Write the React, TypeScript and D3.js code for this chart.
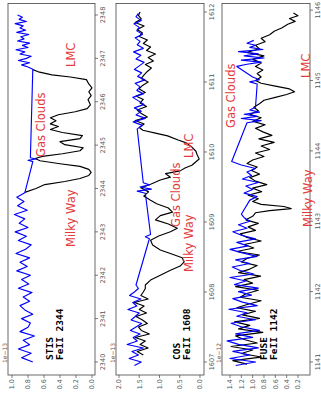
import React from 'react';
import * as d3 from 'd3';

type Pt = [number, number];

const stisWaveTicks = [2340, 2341, 2342, 2343, 2344, 2345, 2346, 2347, 2348];
const stisFluxTicks = [0, 0.2, 0.4, 0.6, 0.8, 1.0];
const cosWaveTicks = [1607, 1608, 1609, 1610, 1611, 1612];
const cosFluxTicks = [0, 0.5, 1.0, 1.5, 2.0];
const fuseWaveTicks = [1141, 1142, 1143, 1144, 1145, 1146];
const fuseFluxTicks = [0.2, 0.4, 0.6, 0.8, 1.0, 1.2, 1.4];

const stisNotes = ['Milky Way', 'Gas Clouds', 'LMC'];
const cosNotes = ['Milky Way', 'Gas Clouds', 'LMC'];
const fuseNotes = ['Milky Way', 'Gas Clouds', 'LMC'];

// continuum (blue) and absorption profile (black), wavelength / flux
const stisBlue: Pt[] = [
  [2340.0, 0.74], [2340.1, 0.88], [2340.2, 0.76], [2340.3, 0.92], [2340.4, 0.78], [2340.5, 0.86],
  [2340.6, 0.72], [2340.7, 0.9], [2340.8, 0.8], [2340.9, 0.77], [2341.0, 0.88], [2341.1, 0.74],
  [2341.2, 0.84], [2341.3, 0.9], [2341.4, 0.78], [2341.5, 0.86], [2341.6, 0.75], [2341.7, 0.92],
  [2341.8, 0.79], [2341.9, 0.88], [2342.0, 0.77], [2342.1, 0.94], [2342.2, 0.81], [2342.3, 0.9],
  [2342.4, 0.78], [2342.5, 0.95], [2342.6, 0.83], [2342.7, 0.76], [2342.8, 0.92], [2342.9, 0.82],
  [2343.0, 0.96], [2343.1, 0.8], [2343.2, 0.91], [2343.3, 0.84], [2343.4, 0.97], [2343.5, 0.81],
  [2343.6, 0.93], [2343.7, 0.85], [2343.8, 0.94], [2343.9, 0.84],
  [2344.62, 0.74], [2344.65, 0.8], [2344.68, 0.7], [2344.71, 0.77],
  [2346.75, 0.74], [2346.8, 0.8], [2346.85, 0.88], [2346.9, 0.78], [2346.95, 0.92], [2347.0, 0.82],
  [2347.05, 0.76], [2347.1, 0.9], [2347.15, 0.84], [2347.2, 0.95], [2347.25, 0.8], [2347.3, 0.87],
  [2347.35, 0.78], [2347.4, 0.93], [2347.45, 0.85], [2347.5, 0.89], [2347.55, 0.79], [2347.6, 0.94],
  [2347.65, 0.83], [2347.7, 0.9], [2347.75, 0.86], [2347.8, 0.96], [2347.85, 0.82], [2347.9, 0.91],
  [2347.95, 0.87], [2348.0, 0.93],
];

const stisBlack: Pt[] = [
  [2343.91, 0.84], [2344.0, 0.7], [2344.09, 0.59], [2344.16, 0.34], [2344.23, 0.15], [2344.3, 0.04],
  [2344.37, 0.01], [2344.44, 0.04], [2344.51, 0.15], [2344.57, 0.4], [2344.64, 0.65], [2344.69, 0.71],
  [2344.74, 0.62], [2344.8, 0.37], [2344.87, 0.15], [2344.94, 0.11], [2345.01, 0.34], [2345.08, 0.4],
  [2345.15, 0.15], [2345.22, 0.12], [2345.29, 0.37], [2345.36, 0.52], [2345.43, 0.42], [2345.49, 0.52],
  [2345.56, 0.45], [2345.63, 0.52], [2345.7, 0.42], [2345.77, 0.21], [2345.84, 0.06], [2345.93, 0.02],
  [2346.05, 0.05], [2346.14, 0.01], [2346.23, 0.04], [2346.32, 0.0], [2346.41, 0.04], [2346.51, 0.07],
  [2346.57, 0.27], [2346.62, 0.5], [2346.69, 0.67], [2346.74, 0.74],
];

const cosBlue: Pt[] = [
  [1606.95, 1.62], [1607.0, 1.45], [1607.05, 1.75], [1607.1, 1.52], [1607.15, 1.68], [1607.2, 1.4],
  [1607.25, 1.8], [1607.3, 1.55], [1607.35, 1.65], [1607.4, 1.48], [1607.45, 1.72], [1607.5, 1.58],
  [1607.55, 1.44], [1607.6, 1.7], [1607.65, 1.6], [1607.7, 1.5], [1607.75, 1.78], [1607.8, 1.56],
  [1607.85, 1.66], [1607.9, 1.46], [1607.95, 1.74], [1608.0, 1.62], [1608.05, 1.52], [1608.1, 1.58],
  [1608.76, 1.25], [1608.79, 1.35], [1608.82, 1.22],
  [1609.41, 1.35], [1609.44, 1.55], [1609.47, 1.2], [1609.5, 1.48], [1609.53, 1.25], [1609.56, 1.4],
  [1610.33, 1.55], [1610.38, 1.42], [1610.43, 1.65], [1610.48, 1.35], [1610.53, 1.58], [1610.58, 1.45],
  [1610.63, 1.62], [1610.68, 1.38], [1610.73, 1.52], [1610.78, 1.66], [1610.83, 1.4], [1610.88, 1.56],
  [1610.93, 1.48], [1610.98, 1.6], [1611.03, 1.36], [1611.08, 1.54], [1611.13, 1.44], [1611.18, 1.62],
  [1611.23, 1.5], [1611.28, 1.38], [1611.33, 1.58], [1611.38, 1.46], [1611.43, 1.64], [1611.48, 1.4],
  [1611.53, 1.55], [1611.58, 1.48], [1611.63, 1.6], [1611.68, 1.42], [1611.73, 1.56], [1611.78, 1.5],
  [1611.83, 1.63], [1611.88, 1.45], [1611.93, 1.58], [1611.98, 1.52],
];

const cosBlack: Pt[] = [
  [1607.1, 1.4], [1607.15, 1.55], [1607.2, 1.28], [1607.25, 1.48], [1607.3, 1.35], [1607.35, 1.6],
  [1607.4, 1.25], [1607.45, 1.45], [1607.5, 1.52], [1607.55, 1.3], [1607.6, 1.42], [1607.65, 1.58],
  [1607.7, 1.32], [1607.75, 1.5], [1607.8, 1.38], [1607.85, 1.62], [1607.9, 1.28], [1607.95, 1.46],
  [1608.0, 1.4], [1608.05, 1.35], [1608.1, 1.35], [1608.17, 1.22], [1608.24, 0.98], [1608.31, 0.73],
  [1608.37, 0.49], [1608.43, 0.39], [1608.49, 0.44], [1608.54, 0.68], [1608.6, 0.98], [1608.67, 1.17],
  [1608.74, 1.22], [1608.8, 1.02], [1608.86, 0.73], [1608.91, 0.56], [1608.97, 0.78], [1609.03, 1.1],
  [1609.09, 0.98], [1609.14, 0.68], [1609.2, 0.78], [1609.26, 1.07], [1609.31, 1.22], [1609.37, 1.39],
  [1609.43, 1.27], [1609.49, 1.46], [1609.54, 1.22], [1609.6, 0.98], [1609.64, 0.73], [1609.69, 0.85],
  [1609.73, 0.49], [1609.77, 0.37], [1609.81, 0.2], [1609.86, 0.1], [1609.9, 0.02], [1609.96, 0.07],
  [1610.01, 0.1], [1610.07, 0.2], [1610.13, 0.34], [1610.17, 0.54], [1610.23, 0.8], [1610.27, 1.1],
  [1610.31, 1.41], [1610.35, 1.5], [1610.4, 1.38], [1610.45, 1.6], [1610.5, 1.3], [1610.55, 1.45],
  [1610.6, 1.55], [1610.65, 1.32], [1610.7, 1.48], [1610.75, 1.4], [1610.8, 1.58], [1610.85, 1.35],
  [1610.9, 1.5], [1610.95, 1.42], [1611.0, 1.28], [1611.05, 1.45], [1611.1, 1.38], [1611.15, 1.3],
  [1611.2, 1.2], [1611.25, 1.35], [1611.3, 1.15], [1611.35, 1.28], [1611.4, 1.1], [1611.45, 1.32],
  [1611.5, 1.22], [1611.55, 1.4], [1611.6, 1.3], [1611.65, 1.5], [1611.7, 1.42], [1611.75, 1.55],
  [1611.8, 1.38], [1611.85, 1.6], [1611.9, 1.45], [1611.95, 1.52], [1612.0, 1.48],
];

const fuseBlue: Pt[] = [
  [1140.95, 1.3], [1141.0, 0.95], [1141.05, 1.4], [1141.1, 1.05], [1141.15, 1.35], [1141.2, 0.9],
  [1141.25, 1.25], [1141.3, 1.45], [1141.35, 1.0], [1141.4, 1.3], [1141.45, 0.88], [1141.5, 1.2],
  [1141.55, 1.38], [1141.6, 0.95], [1141.65, 1.28], [1141.7, 1.1], [1141.75, 1.42], [1141.8, 0.92],
  [1141.85, 1.18], [1141.9, 1.35], [1141.95, 1.02], [1142.0, 1.25], [1142.05, 0.9], [1142.1, 1.32],
  [1142.15, 1.12], [1142.2, 1.4], [1142.25, 0.98], [1142.3, 1.22], [1142.35, 1.36], [1142.4, 1.05],
  [1142.45, 1.3], [1142.5, 0.92], [1142.55, 1.18], [1142.6, 1.4], [1142.65, 1.08], [1142.7, 1.28],
  [1142.75, 0.95], [1142.8, 1.2], [1142.85, 1.35], [1142.9, 1.1], [1142.95, 1.25], [1143.0, 1.05],
  [1143.05, 1.15], [1143.1, 1.2],
  [1143.3, 1.05], [1143.35, 0.92], [1143.4, 1.15], [1143.45, 1.0], [1143.5, 1.12], [1143.55, 0.9],
  [1143.6, 1.18], [1143.65, 1.02], [1143.7, 1.1], [1143.75, 0.95], [1143.8, 1.2], [1143.85, 1.37],
  [1144.4, 1.1], [1144.43, 0.85], [1144.46, 1.2], [1144.49, 0.92], [1144.52, 1.15], [1144.55, 0.88],
  [1144.58, 1.05], [1144.62, 0.95],
  [1144.95, 0.92], [1144.98, 1.05], [1145.01, 0.88], [1145.05, 1.0],
  [1145.2, 1.28], [1145.23, 1.1], [1145.26, 0.85], [1145.29, 1.2], [1145.32, 0.8], [1145.35, 1.15],
  [1145.38, 0.9], [1145.41, 1.25], [1145.44, 0.82], [1145.47, 1.05], [1145.5, 0.95], [1145.53, 1.1],
  [1145.57, 0.98],
];

const fuseBlack: Pt[] = [
  [1140.97, 1.1], [1141.02, 1.35], [1141.07, 0.85], [1141.12, 1.2], [1141.17, 1.0], [1141.22, 1.38],
  [1141.27, 0.92], [1141.32, 1.15], [1141.37, 1.3], [1141.42, 0.82], [1141.47, 1.25], [1141.52, 1.05],
  [1141.57, 1.32], [1141.62, 0.88], [1141.67, 1.18], [1141.72, 0.95], [1141.77, 1.28], [1141.82, 1.08],
  [1141.87, 0.85], [1141.92, 1.22], [1141.97, 1.12], [1142.02, 0.9], [1142.07, 1.3], [1142.12, 1.0],
  [1142.17, 1.15], [1142.22, 0.86], [1142.27, 1.25], [1142.32, 1.05], [1142.37, 0.92], [1142.42, 1.2],
  [1142.47, 1.1], [1142.52, 0.88], [1142.57, 1.28], [1142.62, 0.98], [1142.67, 1.15], [1142.72, 0.85],
  [1142.77, 1.1], [1142.82, 1.22], [1142.87, 0.95], [1142.92, 1.08], [1142.97, 0.9], [1143.02, 1.12],
  [1143.07, 1.0], [1143.12, 0.95], [1143.15, 0.7], [1143.18, 0.32], [1143.21, 0.45], [1143.24, 0.85],
  [1143.28, 1.0], [1143.32, 0.9], [1143.37, 1.08], [1143.42, 0.84], [1143.47, 1.0], [1143.52, 0.75],
  [1143.57, 0.95], [1143.62, 1.05], [1143.67, 0.88], [1143.72, 1.02], [1143.77, 0.92], [1143.82, 1.1],
  [1143.87, 1.0], [1143.92, 0.8], [1143.97, 0.95], [1144.02, 0.7], [1144.07, 0.85], [1144.12, 0.62],
  [1144.17, 0.89], [1144.22, 0.66], [1144.27, 0.82], [1144.32, 0.95], [1144.37, 0.78], [1144.42, 1.0],
  [1144.47, 0.85], [1144.52, 1.05], [1144.57, 0.9], [1144.62, 0.98], [1144.67, 0.88], [1144.72, 0.8],
  [1144.76, 0.6], [1144.8, 0.4], [1144.84, 0.26], [1144.88, 0.35], [1144.92, 0.6], [1144.96, 0.85],
  [1145.0, 0.95], [1145.05, 0.85], [1145.1, 0.92], [1145.15, 0.82], [1145.2, 0.95], [1145.25, 0.85],
  [1145.3, 1.0], [1145.35, 0.8], [1145.4, 1.1], [1145.45, 0.88], [1145.5, 0.95], [1145.55, 0.78],
  [1145.6, 0.85], [1145.65, 0.7], [1145.7, 0.62], [1145.75, 0.48], [1145.8, 0.38], [1145.84, 0.25],
  [1145.88, 0.35], [1145.92, 0.2], [1145.96, 0.28],
];

// figure is drawn landscape (400 wide) then turned a quarter turn left
const FIG_LONG = 400;
const U0 = 25;
const U1 = 396.5;
const FONT = 'DejaVu Sans, Liberation Sans, sans-serif';

const panels = [
  {
    id: 'stis', instrument: 'STIS', line: 'FeII 2344', offset: '1e\u221213',
    top: 8, bottom: 95, wave: [2339.7, 2348.265], flux: [-0.0375, 1.05],
    waveTicks: stisWaveTicks, fluxTicks: stisFluxTicks, black: stisBlack, blue: stisBlue,
    names: stisNotes, notePos: [[153, 75], [243, 45], [333, 75]], titlePos: [40, 53],
  },
  {
    id: 'cos', instrument: 'COS', line: 'FeII 1608', offset: '1e\u221213',
    top: 116, bottom: 204, wave: [1606.814, 1612.121], flux: [-0.099, 2.074],
    waveTicks: cosWaveTicks, fluxTicks: cosFluxTicks, black: cosBlack, blue: cosBlue,
    names: cosNotes, notePos: [[128, 193], [173, 180], [242, 193]], titlePos: [40, 180],
  },
  {
    id: 'fuse', instrument: 'FUSE', line: 'FeII 1142', offset: '1e\u221212',
    top: 222, bottom: 310, wave: [1140.815, 1146.094], flux: [-0.012, 1.541],
    waveTicks: fuseWaveTicks, fluxTicks: fuseFluxTicks, black: fuseBlack, blue: fuseBlue,
    names: fuseNotes, notePos: [[173, 312], [272, 235], [322, 310]], titlePos: [40, 267],
  },
];

const Panel = ({ p }) => {
  const x = d3.scaleLinear().domain(p.wave).range([U0, U1]);
  const y = d3.scaleLinear().domain(p.flux).range([p.bottom, p.top]);
  const line = d3.line<Pt>().x(d => x(d[0])).y(d => y(d[1]));
  const fmt = d3.format('.1f');

  return (
    <g>
      <defs>
        <clipPath id={`clip-${p.id}`}>
          <rect x={U0} y={p.top} width={U1 - U0} height={p.bottom - p.top} />
        </clipPath>
      </defs>
      <rect x={U0} y={p.top} width={U1 - U0} height={p.bottom - p.top} fill="#fff" />
      <g clipPath={`url(#clip-${p.id})`}>
        <path d={line(p.black)} fill="none" stroke="#000" strokeWidth={1.15} strokeLinejoin="round" />
        <path d={line(p.blue)} fill="none" stroke="#0000ff" strokeWidth={1.15} strokeLinejoin="round" />
      </g>
      <rect x={U0} y={p.top} width={U1 - U0} height={p.bottom - p.top} fill="none" stroke="#444" strokeWidth={0.8} />

      {p.waveTicks.map(t => (
        <g key={`w${t}`}>
          <line x1={x(t)} x2={x(t)} y1={p.bottom} y2={p.bottom + 3} stroke="#444" strokeWidth={0.7} />
          <text x={x(t)} y={p.bottom + 9.5} textAnchor="middle" fontSize={6.5} fill="#555" fontFamily={FONT}>{t}</text>
        </g>
      ))}
      {p.fluxTicks.map(t => (
        <g key={`f${t}`}>
          <line x1={U0 - 3} x2={U0} y1={y(t)} y2={y(t)} stroke="#444" strokeWidth={0.7} />
          <text x={U0 - 4} y={y(t) + 2.3} textAnchor="end" fontSize={6.5} fill="#555" fontFamily={FONT}>{fmt(t)}</text>
        </g>
      ))}
      <text x={37} y={p.top - 1} fontSize={6} fill="#555" fontFamily={FONT}>{p.offset}</text>

      <text x={p.titlePos[0]} y={p.titlePos[1]} fontSize={9.5} fontWeight="bold" fontFamily="DejaVu Sans Mono, monospace" fill="#000">
        <tspan x={p.titlePos[0]} dy={0}>{p.instrument}</tspan>
        <tspan x={p.titlePos[0]} dy={9.5}>{p.line}</tspan>
      </text>

      {p.names.map((n, i) => (
        <text key={n} x={p.notePos[i][0]} y={p.notePos[i][1]} fontSize={11.5} fill="#e33b3b" fontFamily={FONT}>{n}</text>
      ))}
    </g>
  );
};

export default function App() {
  return (
    <svg width={321} height={400} style={{ position: 'absolute', left: 0, top: 0, background: '#fff' }}>
      <rect width={321} height={400} fill="#fff" />
      <g transform={`translate(0,${FIG_LONG}) rotate(-90)`}>
        {panels.map(p => <Panel key={p.id} p={p} />)}
      </g>
    </svg>
  );
}
